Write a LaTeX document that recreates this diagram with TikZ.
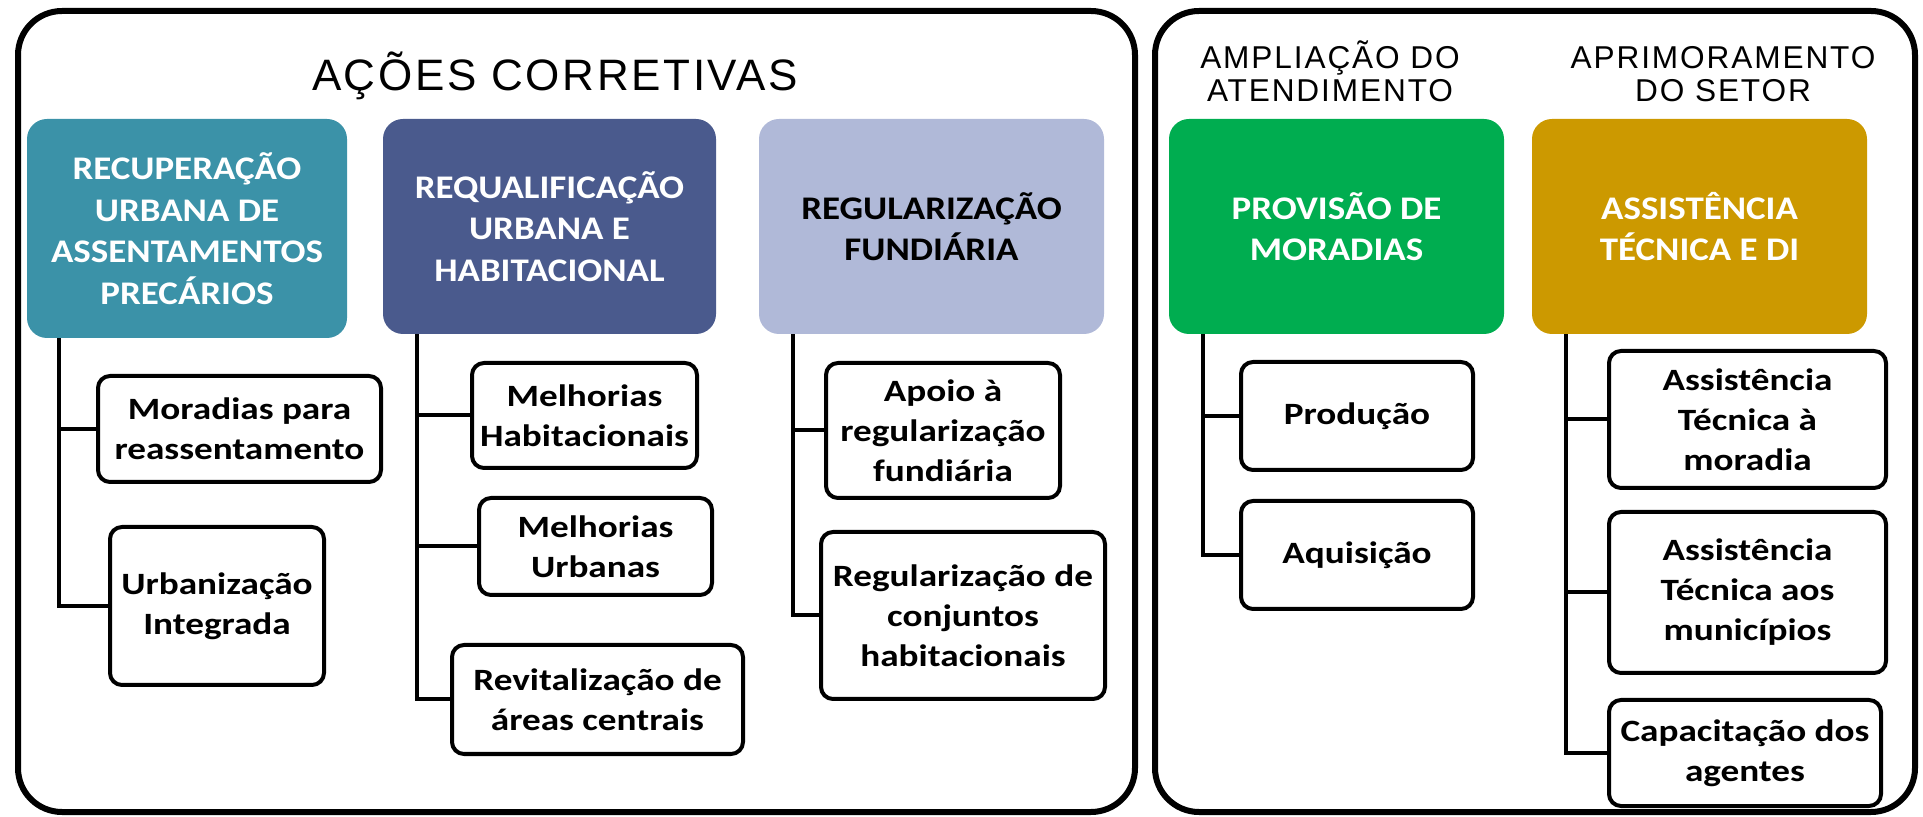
\documentclass[tikz,border=0pt]{standalone}
\usepackage{fontspec}
\setmainfont{Carlito}
\newfontfamily\headfont[FakeStretch=1.12]{Carlito}
\newfontfamily\childfont[FakeStretch=1.2]{Carlito}
\newfontfamily\hdrfont[LetterSpace=6]{Liberation Sans}
\usetikzlibrary{calc}
\definecolor{cteal}{HTML}{3B92A8}
\definecolor{cdblue}{HTML}{4A5A8D}
\definecolor{clblue}{HTML}{B0B9D8}
\definecolor{cgreen}{HTML}{00AD50}
\definecolor{cgold}{HTML}{CC9900}
\tikzset{
  frame/.style={draw=black, line width=3pt, rounded corners=22pt},
  sz/.style 2 args={minimum width=#1*0.5pt, minimum height=#2*0.5pt},
  headbox/.style={rounded corners=10pt, inner sep=0pt, align=center, text=white,
    font=\fontsize{16.5}{20.8}\selectfont\headfont\bfseries},
  childbox/.style={draw=black, line width=2pt, fill=white, rounded corners=6pt, inner sep=0pt,
    align=center, font=\fontsize{15.5}{20}\selectfont\childfont\bfseries},
  conn/.style={draw=black, line width=2pt},
  hdr/.style={align=center, inner sep=0pt, font=\fontsize{15.8}{16}\selectfont\hdrfont},
}
\begin{document}
\begin{tikzpicture}[x=0.5pt,y=-0.5pt]
\useasboundingbox (0,0) rectangle (1923,817);
% frames
\draw[frame] (18,11) rectangle (1135,812);
\draw[frame] (1155,11) rectangle (1915,812);
% titles
\node[hdr, font=\fontsize{22}{24}\selectfont\hdrfont] (tA) at (555,76) {AÇÕES CORRETIVAS};
\node[hdr] (tB1) at (1330,58) {AMPLIAÇÃO DO};
\node[hdr] (tB2) at (1330,91) {ATENDIMENTO};
\node[hdr] (tC1) at (1723,58) {APRIMORAMENTO};
\node[hdr] (tC2) at (1723,91) {DO SETOR};
% head boxes
\node[headbox, fill=cteal, sz={320}{219}] (h1) at (187,228.5) {RECUPERAÇÃO\\URBANA DE\\ASSENTAMENTOS\\PRECÁRIOS};
\node[headbox, fill=cdblue, sz={333}{215}] (h2) at (549.5,226.5) {REQUALIFICAÇÃO\\URBANA E\\HABITACIONAL};
\node[headbox, fill=clblue, text=black, sz={345}{215}] (h3) at (931.5,226.5) {REGULARIZAÇÃO\\FUNDIÁRIA};
\node[headbox, fill=cgreen, sz={335}{215}] (h4) at (1336.5,226.5) {PROVISÃO DE\\MORADIAS};
\node[headbox, fill=cgold, sz={335}{215}] (h5) at (1699.5,226.5) {ASSISTÊNCIA\\TÉCNICA E DI};
% children
\node[childbox, sz={283}{106}] (a1) at (239.5,429) {Moradias para\\reassentamento};
\node[childbox, sz={214}{158}] (a2) at (217,606) {Urbanização\\Integrada};
\node[childbox, sz={225}{105}] (b1) at (584.5,415.5) {Melhorias\\Habitacionais};
\node[childbox, sz={233}{97}] (b2) at (595.5,546.5) {Melhorias\\Urbanas};
\node[childbox, sz={291}{109}] (b3) at (597.5,699.5) {Revitalização de\\áreas centrais};
\node[childbox, sz={234}{135}] (c1) at (943,430.5) {Apoio à\\regularização\\fundiária};
\node[childbox, sz={284}{167}] (c2) at (963,615.5) {Regularização de\\conjuntos\\habitacionais};
\node[childbox, sz={232}{108}] (d1) at (1357,416) {Produção};
\node[childbox, sz={232}{108}] (d2) at (1357,555) {Aquisição};
\node[childbox, sz={277}{137}] (e1) at (1747.5,419.5) {Assistência\\Técnica à\\moradia};
\node[childbox, sz={277}{161}] (e2) at (1747.5,592.5) {Assistência\\Técnica aos\\municípios};
\node[childbox, sz={272}{106}] (e3) at (1745,753) {Capacitação dos\\agentes};
% connectors
\coordinate (p1) at ($(h1.south west)+(32,0)$);
\coordinate (p2) at ($(h2.south west)+(34,0)$);
\coordinate (p3) at ($(h3.south west)+(34,0)$);
\coordinate (p4) at ($(h4.south west)+(34,0)$);
\coordinate (p5) at ($(h5.south west)+(34,0)$);
\draw[conn] (p1) |- (a1.west);
\draw[conn] (p1) |- (a2.west);
\draw[conn] (p2) |- (b1.west);
\draw[conn] (p2) |- (b2.west);
\draw[conn] (p2) |- (b3.west);
\draw[conn] (p3) |- (c1.west);
\draw[conn] (p3) |- (c2.west);
\draw[conn] (p4) |- (d1.west);
\draw[conn] (p4) |- (d2.west);
\draw[conn] (p5) |- (e1.west);
\draw[conn] (p5) |- (e2.west);
\draw[conn] (p5) |- (e3.west);
\end{tikzpicture}
\end{document}
